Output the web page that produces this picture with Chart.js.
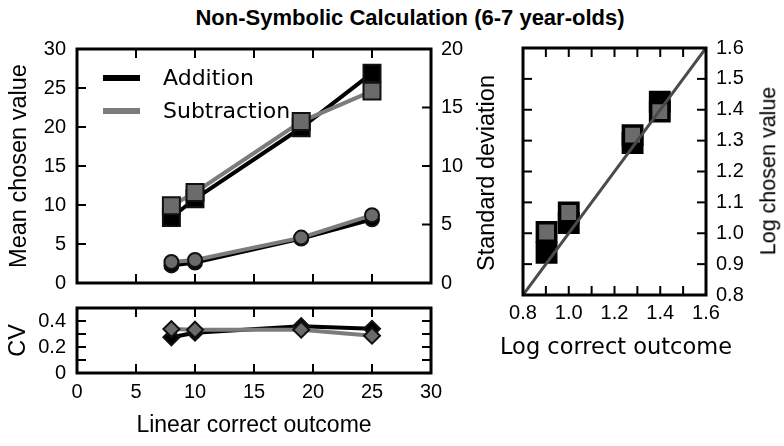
<!DOCTYPE html>
<html>
<head>
<meta charset="utf-8">
<script src="https://cdn.jsdelivr.net/npm/chart.js@4.4.1/dist/chart.umd.min.js"></script>
<style>
  html, body { margin: 0; padding: 0; background: #fff; }
  body { width: 784px; height: 446px; position: relative; overflow: hidden; font-family: "Liberation Sans", Arial, sans-serif; }
  canvas { position: absolute; }
  .txt { position: absolute; white-space: nowrap; color: #000; line-height: 1; }
  .rot { transform: translate(-50%, -50%) rotate(-90deg); }
</style>
</head>
<body>
<div class="txt" style="left:410px; top:18px; transform:translate(-50%,-50%); font-weight:bold; font-size:22px;">Non-Symbolic Calculation (6-7 year-olds)</div>
<canvas id="haut" width="520" height="306" style="left:0; top:0;"></canvas>
<canvas id="bas" width="520" height="161" style="left:0; top:285px;"></canvas>
<canvas id="logs" width="284" height="370" style="left:500px; top:0;"></canvas>
<div class="txt rot" style="left:487px; top:173px; font-size:23.5px;">Standard deviation</div>
<div class="txt rot" style="left:769px; top:171px; font-size:21.5px;">Log chosen value</div>
<div class="txt" style="left:616px; top:346px; transform:translate(-50%,-50%); font-family:'DejaVu Sans', sans-serif; font-size:22.5px;">Log correct outcome</div>
<div id="legende"></div>

<script>
// Données
const outcomes = [8, 10, 19, 25];
const addMean = [8.4, 10.8, 19.9, 26.9];
const subMean = [9.9, 11.6, 20.7, 24.6];
const addSD = [1.5, 1.75, 3.8, 5.45];
const subSD = [1.8, 1.97, 3.88, 5.8];
const addCV = [0.275, 0.31, 0.36, 0.34];
const subCV = [0.338, 0.333, 0.333, 0.287];
const logOutcomes = [0.903, 1.0, 1.279, 1.398];
const addLog = [0.937, 1.033, 1.292, 1.426];
const subLog = [1.004, 1.067, 1.318, 1.394];
const identityLine = [0.8, 1.6];

const seriesNames = ["Addition", "Subtraction"];
const lineColors = ["#000000", "#7c7c7c"];
const markerFills = ["#000000", "#6b6b6b"];

Chart.defaults.font.family = '"Liberation Sans", Arial, sans-serif';
Chart.defaults.color = "#000";

function pts(xs, ys) {
  return xs.map((x, i) => ({ x: x, y: ys[i] }));
}

// Cadre noir + graduations vers l'intérieur
const cadre = {
  id: "cadre",
  afterDatasetsDraw(chart, args, opts) {
    const ctx = chart.ctx;
    const a = chart.chartArea;
    const len = 9;
    ctx.save();
    ctx.strokeStyle = "#000";
    ctx.lineWidth = 2;
    opts.sides.forEach(function (s) {
      const scale = chart.scales[s.scale];
      scale.ticks.forEach(function (t) {
        const p = scale.getPixelForValue(t.value);
        ctx.beginPath();
        if (s.edge === "left") { ctx.moveTo(a.left, p); ctx.lineTo(a.left + len, p); }
        if (s.edge === "right") { ctx.moveTo(a.right, p); ctx.lineTo(a.right - len, p); }
        if (s.edge === "top") { ctx.moveTo(p, a.top); ctx.lineTo(p, a.top + len); }
        if (s.edge === "bottom") { ctx.moveTo(p, a.bottom); ctx.lineTo(p, a.bottom - len); }
        ctx.stroke();
      });
    });
    ctx.lineWidth = 3;
    ctx.strokeRect(a.left, a.top, a.right - a.left, a.bottom - a.top);
    ctx.restore();
  }
};

function serie(i, xs, ys, axe, style, rayon, ordre) {
  return {
    label: seriesNames[i],
    data: pts(xs, ys),
    yAxisID: axe,
    borderColor: lineColors[i],
    borderWidth: 4,
    tension: 0,
    pointStyle: style,
    pointRadius: rayon,
    pointBackgroundColor: markerFills[i],
    pointBorderColor: "#111",
    pointBorderWidth: 2,
    order: ordre
  };
}

const sansGrille = { display: false, drawTicks: false };
const sansBord = { display: false };
const policeTicks = { size: 20 };

// Panneau haut : moyenne et écart-type
new Chart(document.getElementById("haut"), {
  type: "line",
  data: {
    datasets: [
      serie(0, outcomes, addMean, "y", "rect", 12, 4),
      serie(1, outcomes, subMean, "y", "rect", 12, 3),
      serie(0, outcomes, addSD, "y2", "circle", 7, 2),
      serie(1, outcomes, subSD, "y2", "circle", 7, 1)
    ]
  },
  options: {
    responsive: false,
    animation: false,
    layout: { padding: { top: 49, left: 0, right: 0, bottom: 0 } },
    plugins: {
      legend: { display: false },
      tooltip: { enabled: false },
      cadre: { sides: [
        { scale: "x", edge: "top" }, { scale: "x", edge: "bottom" },
        { scale: "y", edge: "left" }, { scale: "y2", edge: "right" }
      ] }
    },
    scales: {
      x: {
        type: "linear", min: 0, max: 30,
        ticks: { display: false, stepSize: 5 },
        grid: sansGrille, border: sansBord,
        afterFit: function (s) { s.height = 13; }
      },
      y: {
        min: 0, max: 30,
        ticks: { stepSize: 5, padding: 11, font: policeTicks },
        grid: sansGrille, border: sansBord,
        title: { display: true, text: "Mean chosen value", font: { size: 23.5 }, padding: { top: 5 } },
        afterFit: function (s) { s.width = 77; }
      },
      y2: {
        position: "right", min: 0, max: 20,
        ticks: { stepSize: 5, padding: 10, font: policeTicks },
        grid: sansGrille, border: sansBord,
        afterFit: function (s) { s.width = 89; }
      }
    }
  },
  plugins: [cadre]
});

// Panneau bas : coefficient de variation
new Chart(document.getElementById("bas"), {
  type: "line",
  data: {
    datasets: [
      serie(0, outcomes, addCV, "y", "rectRot", 8, 2),
      serie(1, outcomes, subCV, "y", "rectRot", 8, 1)
    ]
  },
  options: {
    responsive: false,
    animation: false,
    layout: { padding: { top: 16, left: 0, right: 89, bottom: 0 } },
    plugins: {
      legend: { display: false },
      tooltip: { enabled: false },
      cadre: { sides: [
        { scale: "x", edge: "top" }, { scale: "x", edge: "bottom" },
        { scale: "y", edge: "left" }, { scale: "y", edge: "right" }
      ] }
    },
    scales: {
      x: {
        type: "linear", min: 0, max: 30,
        ticks: { stepSize: 5, padding: 7, font: policeTicks, autoSkip: false, maxRotation: 0 },
        grid: sansGrille, border: sansBord,
        title: { display: true, text: "Linear correct outcome", font: { size: 23 }, padding: { bottom: 7 } },
        afterFit: function (s) { s.height = 73; }
      },
      y: {
        min: 0, max: 0.5,
        ticks: {
          stepSize: 0.1, padding: 11, font: policeTicks, autoSkip: false,
          callback: function (v) {
            const k = Math.round(v * 10);
            if (k === 0) return "0";
            return (k === 2 || k === 4) ? v.toFixed(1) : "";
          }
        },
        grid: sansGrille, border: sansBord,
        title: { display: true, text: "CV", font: { size: 23.5 }, padding: { top: 4 } },
        afterFit: function (s) { s.width = 77; }
      }
    }
  },
  plugins: [cadre]
});

// Panneau droit : log-log
const logSets = [
  serie(0, logOutcomes, addLog, "y", "rect", 13, 3),
  serie(1, logOutcomes, subLog, "y", "rect", 13, 2)
];
logSets.forEach(function (d) {
  d.showLine = false;
  d.pointBorderWidth = 3.5;
  d.pointBorderColor = "#000";
});
logSets.push({
  label: "identity",
  data: pts(identityLine, identityLine),
  yAxisID: "y",
  borderColor: "#4a4a4a",
  borderWidth: 3,
  pointRadius: 0,
  order: 0
});

new Chart(document.getElementById("logs"), {
  type: "line",
  data: { datasets: logSets },
  options: {
    responsive: false,
    animation: false,
    layout: { padding: { top: 48, left: 23, right: 0, bottom: 0 } },
    plugins: {
      legend: { display: false },
      tooltip: { enabled: false },
      cadre: { sides: [
        { scale: "x", edge: "top" }, { scale: "x", edge: "bottom" },
        { scale: "y", edge: "left" }, { scale: "y", edge: "right" }
      ] }
    },
    scales: {
      x: {
        type: "linear", min: 0.8, max: 1.6,
        ticks: {
          stepSize: 0.1, padding: 6, font: policeTicks, autoSkip: false, maxRotation: 0,
          callback: function (v, i) { return i % 2 === 0 ? v.toFixed(1) : ""; }
        },
        grid: sansGrille, border: sansBord,
        afterFit: function (s) { s.height = 75; }
      },
      y: {
        position: "right", min: 0.8, max: 1.6,
        ticks: {
          stepSize: 0.1, padding: 10, font: policeTicks, autoSkip: false,
          callback: function (v) { return v.toFixed(1); }
        },
        grid: sansGrille, border: sansBord,
        afterFit: function (s) { s.width = 78; }
      }
    }
  },
  plugins: [cadre]
});

// Légende
const legende = document.getElementById("legende");
seriesNames.forEach(function (nom, i) {
  const y = 78 + 33 * i;
  const trait = document.createElement("div");
  trait.style.cssText = "position:absolute; left:103px; top:" + (y - 3) + "px; width:37px; height:6px; background:" + lineColors[i] + ";";
  const txt = document.createElement("div");
  txt.className = "txt";
  txt.style.cssText += "left:163px; top:" + y + "px; transform:translateY(-50%); font-family:'DejaVu Sans', sans-serif; font-size:22px;";
  txt.textContent = nom;
  legende.appendChild(trait);
  legende.appendChild(txt);
});
</script>
</body>
</html>
